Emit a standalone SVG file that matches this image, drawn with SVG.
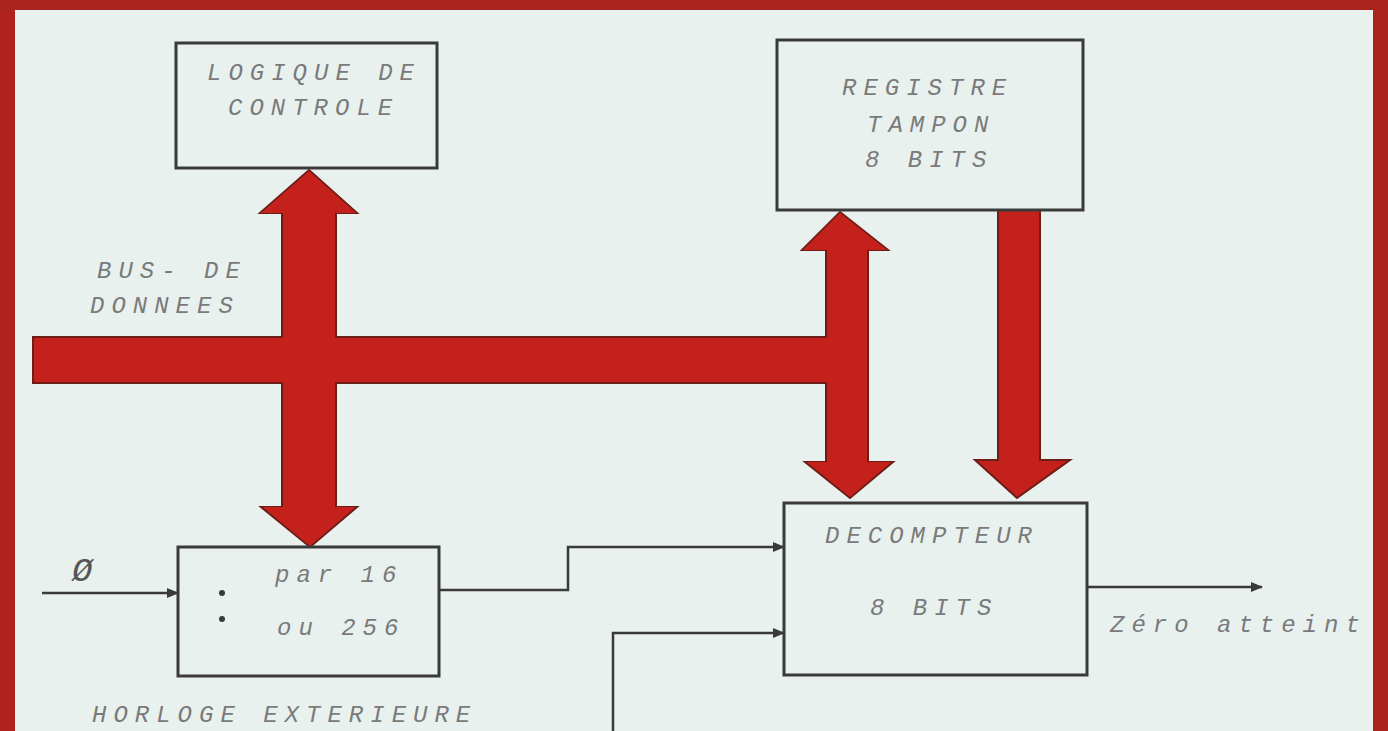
<svg xmlns="http://www.w3.org/2000/svg" width="1388" height="731" viewBox="0 0 1388 731">
<defs>
<style>
.box{fill:none;stroke:#3a3a3a;stroke-width:3}
.wire{fill:none;stroke:#3a3a3a;stroke-width:2.5}
.bus{fill:#c4211c;stroke:#6b1d16;stroke-width:2;stroke-linejoin:miter}
.busfill{fill:#c4211c;stroke:none}
.t{font-family:"Liberation Mono","DejaVu Sans Mono",monospace;font-style:italic;font-size:24px;letter-spacing:7px;fill:#7a7a7a}
</style>
<marker id="ah" viewBox="0 0 12 10" refX="11" refY="5" markerWidth="12" markerHeight="10" markerUnits="userSpaceOnUse" orient="auto">
<path d="M0,0 L12,5 L0,10 Z" fill="#3a3a3a"/>
</marker>
</defs>
<rect x="0" y="0" width="1388" height="731" fill="#e9f1ef"/>
<rect x="0" y="0" width="15" height="731" fill="#b0221d"/>
<rect x="0" y="0" width="1388" height="10" fill="#a8241d"/>
<rect x="1373" y="0" width="15" height="731" fill="#a8241d"/>

<g id="connectors">
<g id="buses">
<rect class="bus" x="33" y="337" width="800" height="46"/>
<polygon class="bus" points="309,170 357,213 336,213 336,507 357,507 310,547 261,507 282,507 282,213 260,213"/>
<polygon class="bus" points="840,212 888,250 868,250 868,462 893,462 850,498 805,462 826,462 826,250 802,250"/>
<polygon class="bus" points="998,210 1040,210 1040,460 1070,460 1017,498 975,460 998,460"/>
<rect class="busfill" x="34" y="338" width="798" height="44"/>
<polygon class="busfill" points="309,171 356,213 335,213 335,507 355,507 310,546 263,507 283,507 283,213 261,213"/>
<polygon class="busfill" points="840,213 887,250 867,250 867,462 891,462 850,497 807,462 827,462 827,250 803,250"/>
</g>
<path class="wire" d="M42,593 H178" marker-end="url(#ah)"/>
<path class="wire" d="M439,590 H568 V547 H784" marker-end="url(#ah)"/>
<path class="wire" d="M613,731 V633 H784" marker-end="url(#ah)"/>
<path class="wire" d="M1087,587 H1262" marker-end="url(#ah)"/>
</g>

<g id="logique">
<rect class="box" x="176" y="43" width="261" height="125"/>
<text class="t" x="207" y="80">LOGIQUE DE</text>
<text class="t" x="228" y="115">CONTROLE</text>
</g>

<g id="registre">
<rect class="box" x="777" y="40" width="306" height="170"/>
<text class="t" x="842" y="95">REGISTRE</text>
<text class="t" x="867" y="132">TAMPON</text>
<text class="t" x="865" y="167">8 BITS</text>
</g>

<g id="diviseur">
<rect class="box" x="178" y="547" width="261" height="129"/>
<circle cx="222" cy="593" r="3" fill="#3a3a3a"/>
<circle cx="222" cy="619" r="3" fill="#3a3a3a"/>
<text class="t" x="275" y="582">par  16</text>
<text class="t" x="277" y="635">ou  256</text>
</g>

<g id="decompteur">
<rect class="box" x="784" y="503" width="303" height="172"/>
<text class="t" x="825" y="543">DECOMPTEUR</text>
<text class="t" x="870" y="615">8 BITS</text>
</g>

<g id="labels">
<text class="t" x="97" y="278">BUS- DE</text>
<text class="t" x="90" y="313">DONNEES</text>
<text class="t" x="72" y="581" style="font-size:34px;letter-spacing:0;fill:#555">Ø</text>
<text class="t" x="92" y="722">HORLOGE EXTERIEURE</text>
<text class="t" x="1110" y="632">Zéro atteint</text>
</g>
</svg>
